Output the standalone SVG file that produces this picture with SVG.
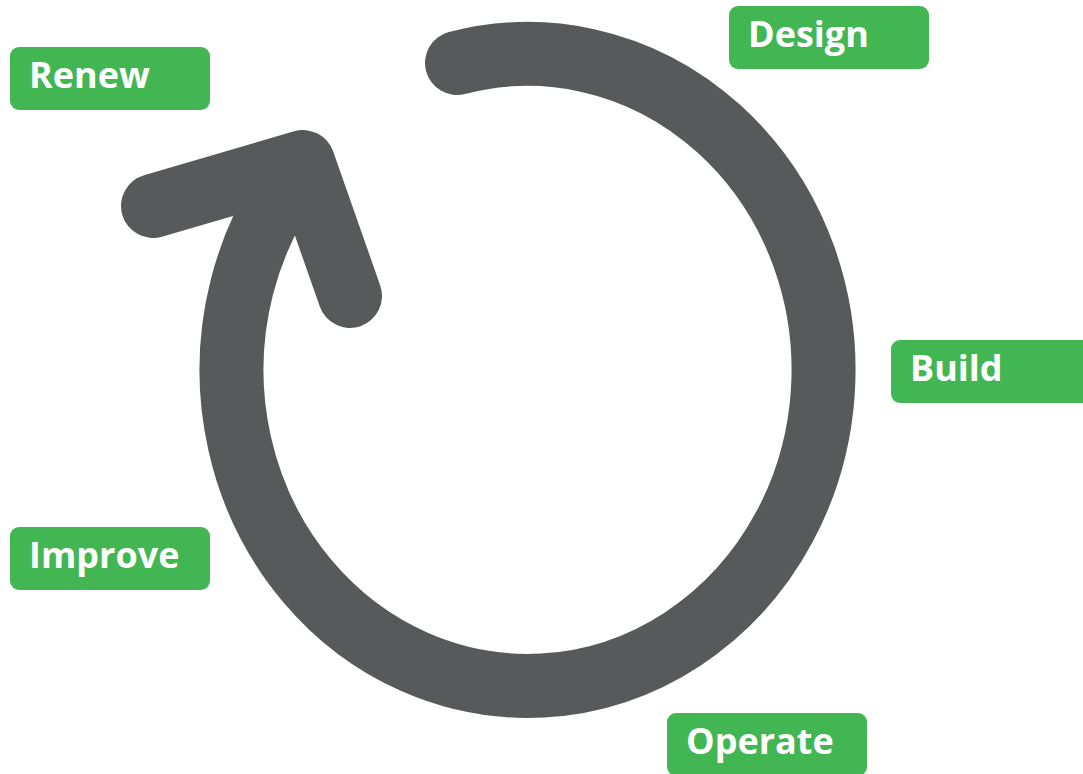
<svg xmlns="http://www.w3.org/2000/svg" width="1083" height="774" viewBox="0 0 1083 774">
<style>
.box{fill:#43b654}
.lbl{fill:#ffffff;font-family:"Open Sans","Liberation Sans",sans-serif;font-weight:bold;font-size:36px}
.ring{fill:none;stroke:#58595b;stroke-width:64;stroke-linecap:round;stroke-linejoin:round}
</style>
<rect width="1083" height="774" fill="#ffffff"/>
<g id="connectors">
<path class="ring" d="M457,63 A296,316 0 1 1 303,164"/>
<path class="ring" d="M153,206 L303,162 L350,296"/>
</g>
<g id="renew"><rect class="box" x="10" y="47" width="200" height="63" rx="9"/><text class="lbl" x="29" y="88">Renew</text></g>
<g id="design"><rect class="box" x="729" y="6" width="200" height="63" rx="9"/><text class="lbl" x="748" y="47">Design</text></g>
<g id="build"><rect class="box" x="891" y="340" width="200" height="63" rx="9"/><text class="lbl" x="910" y="381">Build</text></g>
<g id="improve"><rect class="box" x="10" y="527" width="200" height="63" rx="9"/><text class="lbl" x="29" y="568">Improve</text></g>
<g id="operate"><rect class="box" x="667" y="713" width="200" height="63" rx="9"/><text class="lbl" x="686" y="754">Operate</text></g>
</svg>
